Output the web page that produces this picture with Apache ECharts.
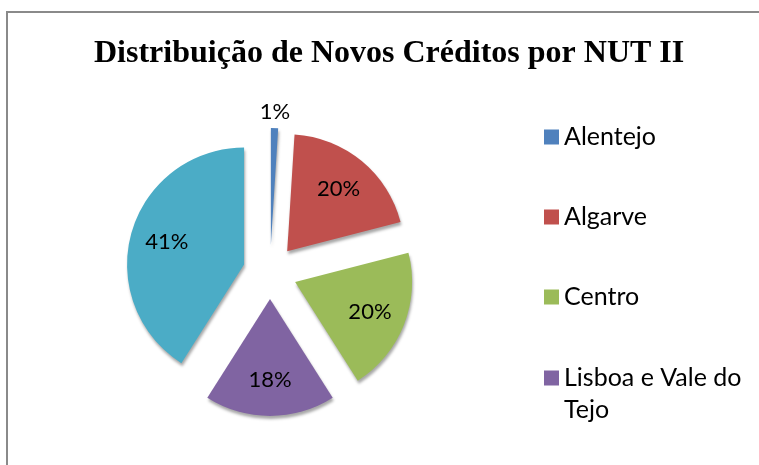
<!DOCTYPE html>
<html>
<head>
<meta charset="utf-8">
<script src="https://cdn.jsdelivr.net/npm/echarts@6/dist/echarts.min.js"></script>
<style>html,body{margin:0;padding:0;background:#fff;}#c{width:759px;height:465px;}</style>
</head>
<body>
<div id="c"></div>
<script>
const titleText = 'Distribuição de Novos Créditos por NUT II';
const categories = ['Alentejo', 'Algarve', 'Centro', 'Lisboa e Vale do Tejo', 'Norte'];
const values = [1, 20, 20, 18, 41];
const colors = ['#4F81BD', '#C0504D', '#9BBB59', '#8064A2', '#4BACC6'];
const legendNames = ['Alentejo', 'Algarve', 'Centro'];
const legendWrapped = ['Lisboa e Vale do Tejo'];
const outsideLabelNames = ['Alentejo'];

const chart = echarts.init(document.getElementById('c'), null, {renderer: 'canvas'});
const center = [270, 272];
const R = 117;
const off = 27;
const fontFam = 'Lato, "Noto Sans", sans-serif';
const pct = p => Math.round(p.percent) + '%';

const pieData = categories.map((n, i) => ({
  name: n, value: values[i], selected: true,
  itemStyle: {color: colors[i]}
}));
const insideData = categories.map((n, i) => ({
  name: n, value: values[i], selected: true,
  label: {show: outsideLabelNames.indexOf(n) < 0}
}));
const outsideData = categories.map((n, i) => ({
  name: n, value: values[i], selected: true,
  label: {show: outsideLabelNames.indexOf(n) >= 0}
}));

const labelSeries = (radius, data) => ({
  type: 'pie', center: center, radius: radius, startAngle: 90, clockwise: true,
  selectedMode: 'multiple', selectedOffset: off, silent: true,
  itemStyle: {color: 'rgba(0,0,0,0)'},
  label: {position: 'inside', formatter: pct, fontFamily: fontFam, fontSize: 22, color: '#000'},
  labelLine: {show: false},
  emphasis: {disabled: true},
  data: data
});

const legendText = {fontFamily: fontFam, fontSize: 25, color: '#000', lineHeight: 32};

chart.setOption({
  animation: false,
  title: {
    text: titleText, left: 89, top: 33,
    textStyle: {fontFamily: '"Liberation Serif", "Times New Roman", serif', fontWeight: 'bold', fontSize: 32, color: '#000'}
  },
  legend: [{
    orient: 'vertical', left: 544, top: 121, height: 400, padding: 0,
    itemWidth: 15, itemHeight: 15, itemGap: 48,
    icon: 'rect', selectedMode: false,
    textStyle: legendText,
    data: legendNames
  }, {
    orient: 'vertical', left: 544, top: 362, height: 100, padding: 0,
    itemWidth: 15, itemHeight: 47,
    icon: 'path://M0,0h15v15h-15zM0,47h0.01', selectedMode: false,
    formatter: n => n.replace('Vale do ', 'Vale do\n'),
    textStyle: legendText,
    data: legendWrapped
  }],
  graphic: [{
    type: 'rect', shape: {x: 7, y: 12, width: 770, height: 470},
    style: {fill: 'none', stroke: '#8a8a8a', lineWidth: 2}, z: -1, silent: true
  }],
  series: [{
    type: 'pie', center: center, radius: R, startAngle: 90, clockwise: true,
    selectedMode: 'multiple', selectedOffset: off, silent: true,
    label: {show: false}, labelLine: {show: false},
    itemStyle: {shadowColor: 'rgba(0,0,0,0.35)', shadowBlur: 3, shadowOffsetX: 1, shadowOffsetY: 3},
    emphasis: {disabled: true},
    data: pieData
  },
  labelSeries([38, R], insideData),
  labelSeries([124, 136], outsideData)
  ]
});
</script>
</body>
</html>
